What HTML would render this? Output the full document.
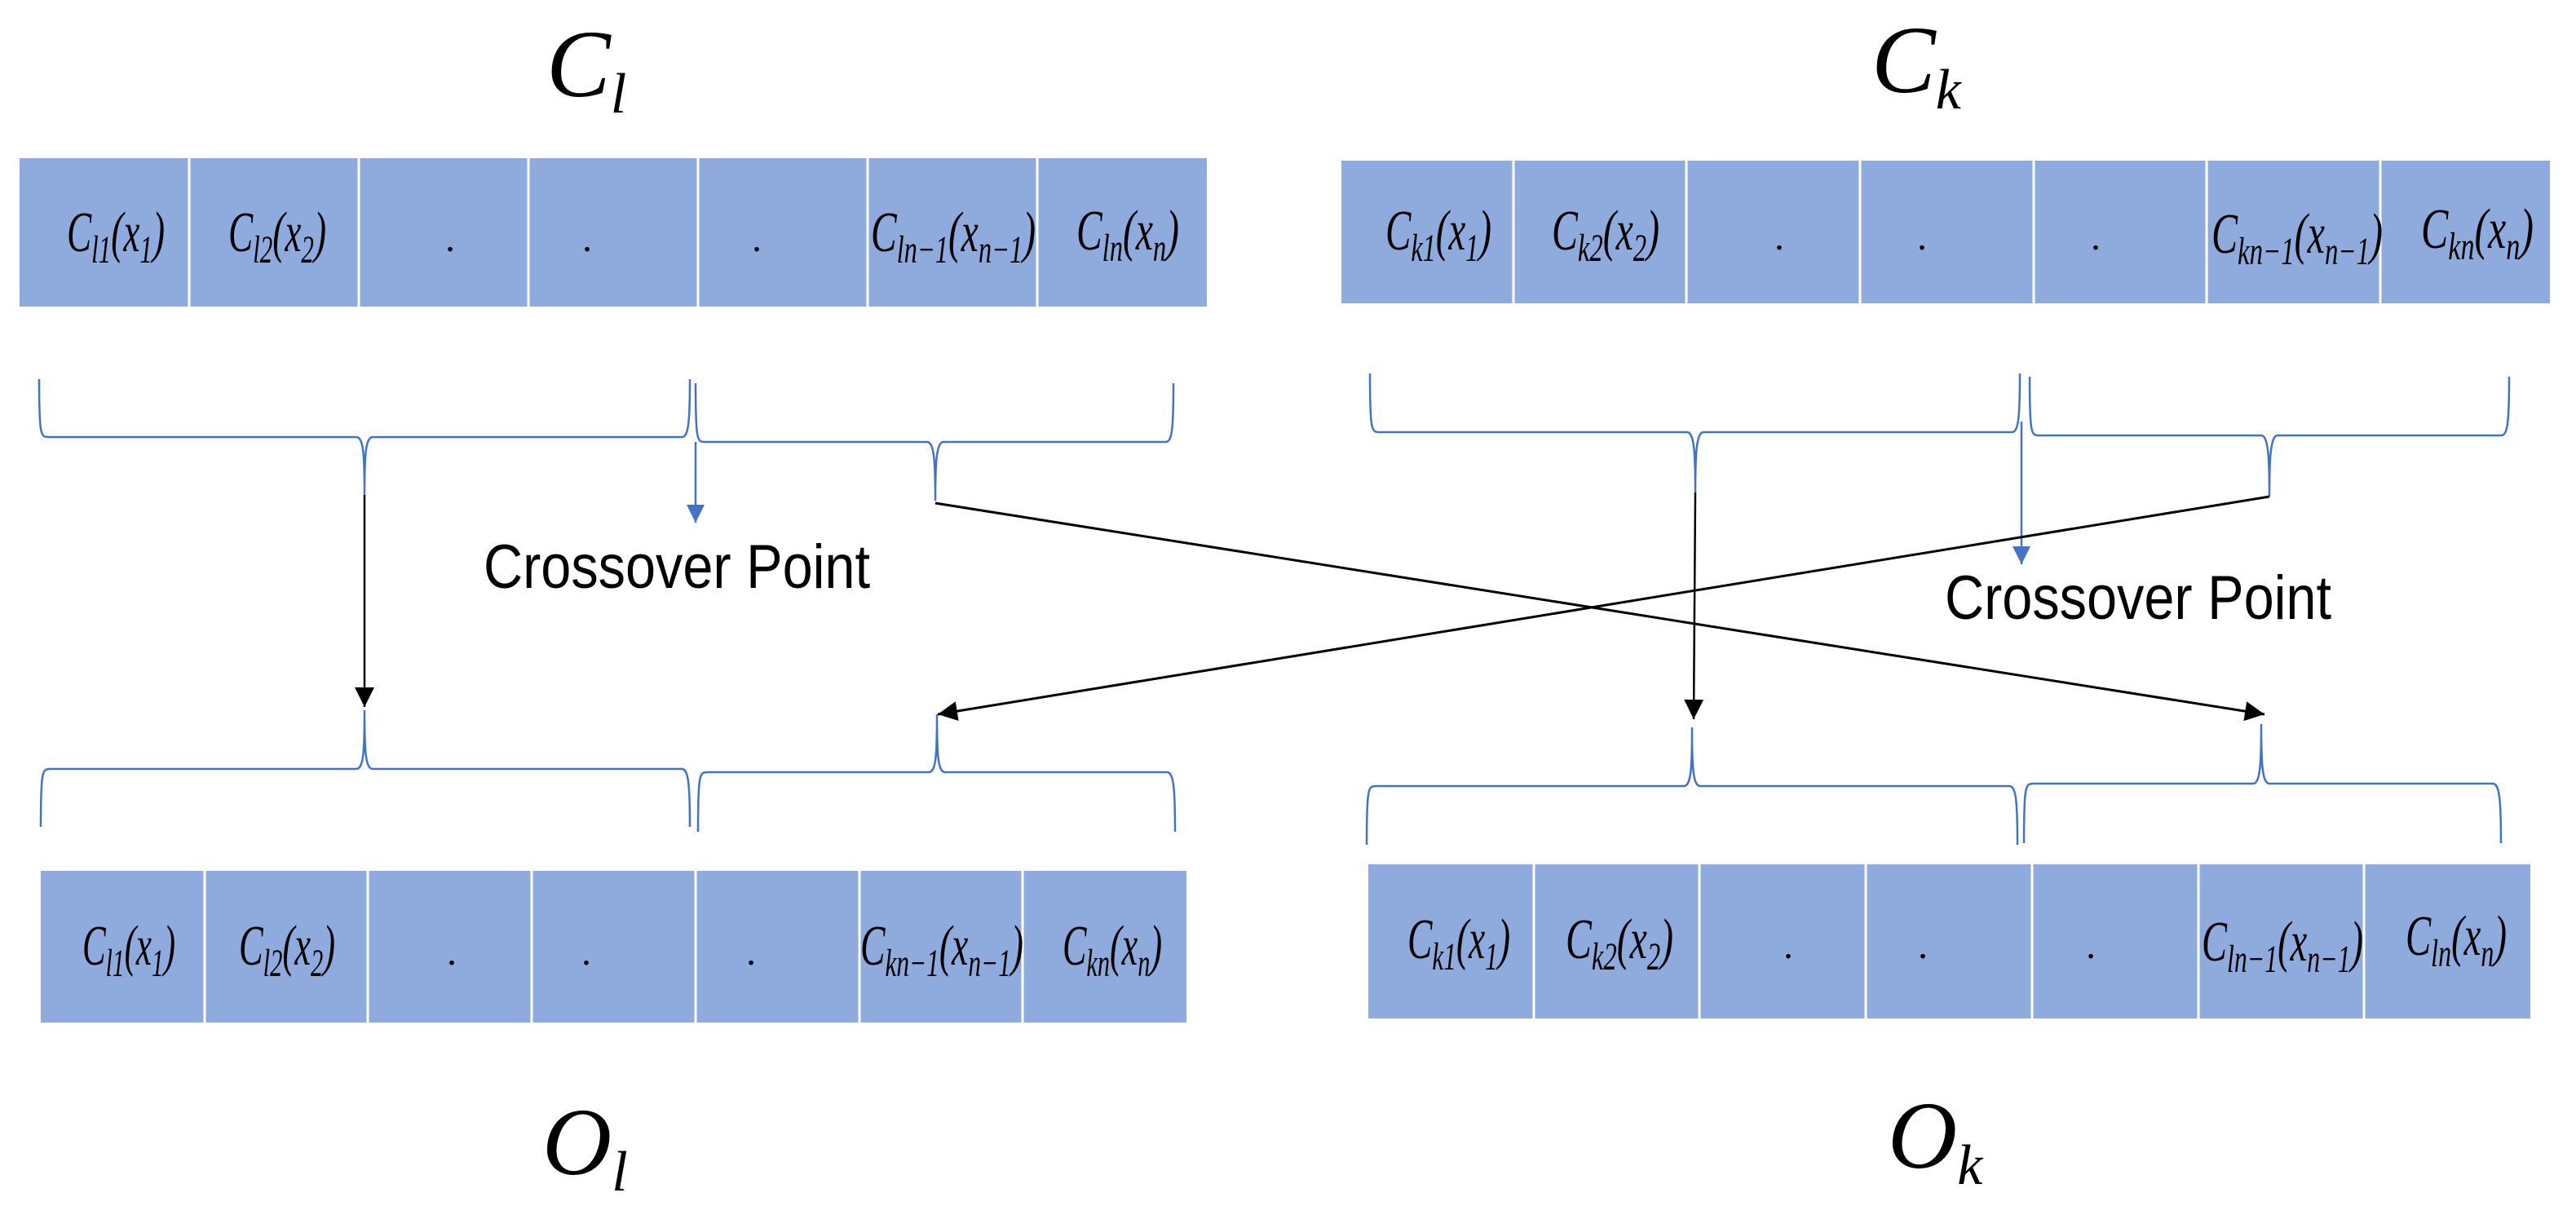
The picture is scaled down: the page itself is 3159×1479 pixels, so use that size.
<!DOCTYPE html>
<html><head><meta charset="utf-8"><style>
html,body{margin:0;padding:0;background:#fff;}
svg{display:block;}
.lbl{font-family:"Liberation Serif",serif;font-style:italic;font-size:70px;fill:#000;}
.lbl tspan.s{font-size:48px;}
.dot{font-family:"Liberation Serif",serif;font-size:48px;fill:#000;}
.ttl{font-family:"Liberation Serif",serif;font-style:italic;font-size:118px;fill:#000;}
.cp{font-family:"Liberation Sans",sans-serif;font-size:76px;fill:#000;}
.br{fill:none;stroke:#4472C4;stroke-width:2.5;}
</style></head><body>
<svg width="3159" height="1479" viewBox="0 0 3159 1479" xmlns="http://www.w3.org/2000/svg">
<defs>
<marker id="ak" viewBox="0 0 10 10" refX="10" refY="5" markerWidth="26" markerHeight="24" orient="auto" markerUnits="userSpaceOnUse"><path d="M0,0 L10,5 L0,10 z" fill="#000"/></marker>
<marker id="au" viewBox="0 0 10 10" refX="10" refY="5" markerWidth="26" markerHeight="22" orient="auto" markerUnits="userSpaceOnUse"><path d="M0,0 L10,5 L0,10 z" fill="#4472C4"/></marker>
</defs>

<text class="ttl" x="670" y="118">C<tspan font-size="70" dy="20">l</tspan></text>
<text class="ttl" x="2295" y="113">C<tspan font-size="70" dy="20">k</tspan></text>
<text class="ttl" x="665" y="1440">O<tspan font-size="70" dy="20">l</tspan></text>
<text class="ttl" x="2315" y="1432">O<tspan font-size="70" dy="20">k</tspan></text>

<!-- Top-left bar -->
<rect x="24" y="194" width="1456" height="182" fill="#8FAADC"/>
<g stroke="#fff" stroke-width="3">
<line x1="232" y1="194" x2="232" y2="376"/><line x1="440" y1="194" x2="440" y2="376"/><line x1="648" y1="194" x2="648" y2="376"/><line x1="856" y1="194" x2="856" y2="376"/><line x1="1064" y1="194" x2="1064" y2="376"/><line x1="1272" y1="194" x2="1272" y2="376"/>
</g>
<text class="lbl" x="82" y="308" textLength="120" lengthAdjust="spacingAndGlyphs">C<tspan class="s" dy="14">l1</tspan><tspan dy="-14">(x</tspan><tspan class="s" dy="14">1</tspan><tspan dy="-14">)</tspan></text>
<text class="lbl" x="280" y="308" textLength="120" lengthAdjust="spacingAndGlyphs">C<tspan class="s" dy="14">l2</tspan><tspan dy="-14">(x</tspan><tspan class="s" dy="14">2</tspan><tspan dy="-14">)</tspan></text>
<text class="dot" x="546" y="308">.</text><text class="dot" x="714" y="308">.</text><text class="dot" x="922" y="308">.</text>
<text class="lbl" x="1068" y="308" textLength="202" lengthAdjust="spacingAndGlyphs">C<tspan class="s" dy="14">ln−1</tspan><tspan dy="-14">(x</tspan><tspan class="s" dy="14">n−1</tspan><tspan dy="-14">)</tspan></text>
<text class="lbl" x="1320" y="306" textLength="126" lengthAdjust="spacingAndGlyphs">C<tspan class="s" dy="14">ln</tspan><tspan dy="-14">(x</tspan><tspan class="s" dy="14">n</tspan><tspan dy="-14">)</tspan></text>

<!-- Top-right bar -->
<rect x="1645" y="197" width="1482" height="175" fill="#8FAADC"/>
<g stroke="#fff" stroke-width="3">
<line x1="1856" y1="197" x2="1856" y2="372"/><line x1="2068" y1="197" x2="2068" y2="372"/><line x1="2281" y1="197" x2="2281" y2="372"/><line x1="2494" y1="197" x2="2494" y2="372"/><line x1="2706" y1="197" x2="2706" y2="372"/><line x1="2919" y1="197" x2="2919" y2="372"/>
</g>
<text class="lbl" x="1699" y="306" textLength="130" lengthAdjust="spacingAndGlyphs">C<tspan class="s" dy="14">k1</tspan><tspan dy="-14">(x</tspan><tspan class="s" dy="14">1</tspan><tspan dy="-14">)</tspan></text>
<text class="lbl" x="1903" y="306" textLength="132" lengthAdjust="spacingAndGlyphs">C<tspan class="s" dy="14">k2</tspan><tspan dy="-14">(x</tspan><tspan class="s" dy="14">2</tspan><tspan dy="-14">)</tspan></text>
<text class="dot" x="2176" y="306">.</text><text class="dot" x="2351" y="306">.</text><text class="dot" x="2564" y="306">.</text>
<text class="lbl" x="2712" y="310" textLength="210" lengthAdjust="spacingAndGlyphs">C<tspan class="s" dy="14">kn−1</tspan><tspan dy="-14">(x</tspan><tspan class="s" dy="14">n−1</tspan><tspan dy="-14">)</tspan></text>
<text class="lbl" x="2969" y="304" textLength="138" lengthAdjust="spacingAndGlyphs">C<tspan class="s" dy="14">kn</tspan><tspan dy="-14">(x</tspan><tspan class="s" dy="14">n</tspan><tspan dy="-14">)</tspan></text>

<!-- Bottom-left bar -->
<rect x="50" y="1068" width="1405" height="186" fill="#8FAADC"/>
<g stroke="#fff" stroke-width="3">
<line x1="251" y1="1068" x2="251" y2="1254"/><line x1="451" y1="1068" x2="451" y2="1254"/><line x1="652" y1="1068" x2="652" y2="1254"/><line x1="853" y1="1068" x2="853" y2="1254"/><line x1="1054" y1="1068" x2="1054" y2="1254"/><line x1="1254" y1="1068" x2="1254" y2="1254"/>
</g>
<text class="lbl" x="101" y="1183" textLength="114" lengthAdjust="spacingAndGlyphs">C<tspan class="s" dy="14">l1</tspan><tspan dy="-14">(x</tspan><tspan class="s" dy="14">1</tspan><tspan dy="-14">)</tspan></text>
<text class="lbl" x="293" y="1183" textLength="118" lengthAdjust="spacingAndGlyphs">C<tspan class="s" dy="14">l2</tspan><tspan dy="-14">(x</tspan><tspan class="s" dy="14">2</tspan><tspan dy="-14">)</tspan></text>
<text class="dot" x="548" y="1183">.</text><text class="dot" x="713" y="1183">.</text><text class="dot" x="915" y="1183">.</text>
<text class="lbl" x="1055" y="1183" textLength="200" lengthAdjust="spacingAndGlyphs">C<tspan class="s" dy="14">kn−1</tspan><tspan dy="-14">(x</tspan><tspan class="s" dy="14">n−1</tspan><tspan dy="-14">)</tspan></text>
<text class="lbl" x="1303" y="1183" textLength="122" lengthAdjust="spacingAndGlyphs">C<tspan class="s" dy="14">kn</tspan><tspan dy="-14">(x</tspan><tspan class="s" dy="14">n</tspan><tspan dy="-14">)</tspan></text>

<!-- Bottom-right bar -->
<rect x="1678" y="1060" width="1425" height="189" fill="#8FAADC"/>
<g stroke="#fff" stroke-width="3">
<line x1="1881" y1="1060" x2="1881" y2="1249"/><line x1="2084" y1="1060" x2="2084" y2="1249"/><line x1="2288" y1="1060" x2="2288" y2="1249"/><line x1="2492" y1="1060" x2="2492" y2="1249"/><line x1="2696" y1="1060" x2="2696" y2="1249"/><line x1="2899" y1="1060" x2="2899" y2="1249"/>
</g>
<text class="lbl" x="1726" y="1175" textLength="126" lengthAdjust="spacingAndGlyphs">C<tspan class="s" dy="14">k1</tspan><tspan dy="-14">(x</tspan><tspan class="s" dy="14">1</tspan><tspan dy="-14">)</tspan></text>
<text class="lbl" x="1920" y="1175" textLength="132" lengthAdjust="spacingAndGlyphs">C<tspan class="s" dy="14">k2</tspan><tspan dy="-14">(x</tspan><tspan class="s" dy="14">2</tspan><tspan dy="-14">)</tspan></text>
<text class="dot" x="2187" y="1175">.</text><text class="dot" x="2352" y="1175">.</text><text class="dot" x="2558" y="1175">.</text>
<text class="lbl" x="2700" y="1178" textLength="198" lengthAdjust="spacingAndGlyphs">C<tspan class="s" dy="14">ln−1</tspan><tspan dy="-14">(x</tspan><tspan class="s" dy="14">n−1</tspan><tspan dy="-14">)</tspan></text>
<text class="lbl" x="2950" y="1171" textLength="124" lengthAdjust="spacingAndGlyphs">C<tspan class="s" dy="14">ln</tspan><tspan dy="-14">(x</tspan><tspan class="s" dy="14">n</tspan><tspan dy="-14">)</tspan></text>

<!-- Top braces -->
<path class="br" d="M48,465 C48,536 50,536 60,536 L437,536 C446,536 447,560 447,607 C447,560 448,536 457,536 L836,536 C844,536 846,520 846,465"/>
<path class="br" d="M853,470 C853,542 855,542 865,542 L1137,542 C1146,542 1147,570 1147,614 C1147,570 1148,542 1157,542 L1429,542 C1437,542 1439,530 1439,470"/>
<path class="br" d="M1680,458 C1680,530 1682,530 1692,530 L2069,530 C2078,530 2079,560 2079,604 C2079,560 2080,530 2089,530 L2467,530 C2475,530 2477,515 2477,458"/>
<path class="br" d="M2489,462 C2489,534 2491,534 2501,534 L2773,534 C2782,534 2783,565 2783,609 C2783,565 2784,534 2793,534 L3067,534 C3075,534 3077,520 3077,462"/>

<!-- Bottom braces -->
<path class="br" d="M50,1014 C50,943 52,943 62,943 L437,943 C446,943 447,920 447,871 C447,920 448,943 457,943 L836,943 C844,943 846,960 846,1014"/>
<path class="br" d="M856,1020 C856,947 858,947 868,947 L1139,947 C1148,947 1149,925 1149,876 C1149,925 1150,947 1159,947 L1431,947 C1439,947 1441,965 1441,1020"/>
<path class="br" d="M1676,1036 C1676,964 1678,964 1688,964 L2065,964 C2074,964 2075,940 2075,892 C2075,940 2076,964 2085,964 L2464,964 C2472,964 2474,980 2474,1036"/>
<path class="br" d="M2482,1034 C2482,961 2484,961 2494,961 L2763,961 C2772,961 2773,935 2773,888 C2773,935 2774,961 2783,961 L3057,961 C3065,961 3067,980 3067,1034"/>

<line x1="853" y1="542" x2="853" y2="641" stroke="#4472C4" stroke-width="2.5" marker-end="url(#au)"/>
<line x1="2479" y1="517" x2="2479" y2="692" stroke="#4472C4" stroke-width="2.5" marker-end="url(#au)"/>
<text class="cp" x="593" y="721" textLength="474" lengthAdjust="spacingAndGlyphs">Crossover Point</text>
<text class="cp" x="2385" y="759" textLength="474" lengthAdjust="spacingAndGlyphs">Crossover Point</text>

<line x1="447" y1="607" x2="447" y2="867" stroke="#000" stroke-width="2.5" marker-end="url(#ak)"/>
<line x1="2079" y1="604" x2="2077" y2="882" stroke="#000" stroke-width="2.5" marker-end="url(#ak)"/>
<line x1="1147" y1="617" x2="2777" y2="876" stroke="#000" stroke-width="3" marker-end="url(#ak)"/>
<line x1="2783" y1="609" x2="1150" y2="876" stroke="#000" stroke-width="3" marker-end="url(#ak)"/>
</svg>
</body></html>
